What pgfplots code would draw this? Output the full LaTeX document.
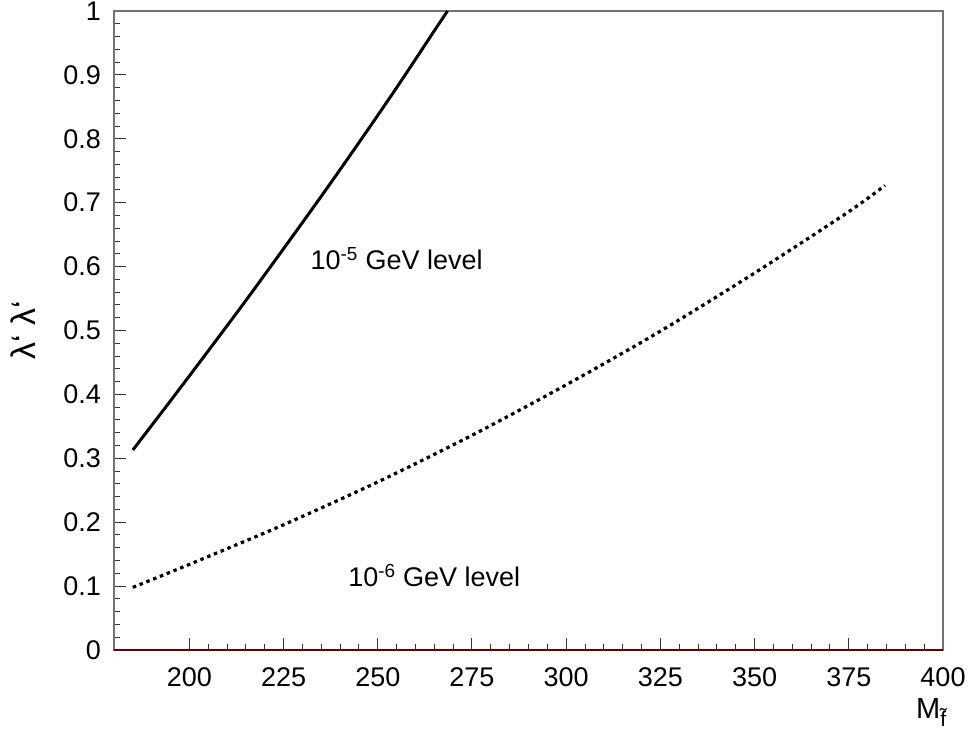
\documentclass[border=0pt]{standalone}
\usepackage{fontspec}
\setmainfont{Liberation Sans}
\usepackage{pgfplots}
\pgfplotsset{compat=1.18}

\begin{document}
\begin{tikzpicture}
    \begin{axis}[
        scale only axis,
        width=829pt,
        height=639pt,
        xmin=180, xmax=400,
        ymin=0, ymax=1,
        xtick={200,225,...,400},
        ytick={0,0.1,...,1},
        minor x tick num=4,
        minor y tick num=4,
        tick align=inside,
        xtick pos=bottom,
        ytick pos=left,
        major tick length=12pt,
        minor tick length=6pt,
        every tick/.style={black!80, line width=1pt},
        axis line style={draw=black!55, line width=1.2pt},
        /pgf/number format/assume math mode=true,
        /pgf/number format/fixed,
        tick label style={font=\fontsize{27}{32}\selectfont, inner sep=0pt},
        xticklabel style={yshift=-17pt},
        yticklabel style={xshift=-13pt},
        label style={inner sep=0pt},
        xlabel={\fontsize{29}{32}\selectfont M\raisebox{-0.28em}{\fontsize{21}{21}\selectfont\~{f}}},
        xlabel style={at={(axis description cs:1.004,-0.076)}, anchor=north east},
        ylabel={\fontsize{34}{36}\selectfont λ‘ λ‘},
        ylabel style={at={(axis description cs:-0.1098,0.5)}, anchor=center},
    ]
        % 10^-5 GeV level
        \addplot[black, line width=3pt, smooth] coordinates {
            (185,0.313) (195,0.390) (205,0.468) (215,0.547) (225,0.628)
            (235,0.710) (245,0.794) (255,0.880) (265,0.969) (268.5,1.0)
        };
        % 10^-6 GeV level
        \addplot[black, line width=3.2pt, smooth, dash pattern=on 3.5pt off 3.8pt] coordinates {
            (185,0.098) (200,0.134) (225,0.196) (250,0.263) (275,0.336)
            (300,0.415) (325,0.499) (350,0.590) (375,0.686) (384.6,0.727)
        };
        \draw[color=black!40!red!60!black, line width=1.2pt] (axis cs:180,0) -- (axis cs:400,0);
        \node[font=\fontsize{27}{32}\selectfont] at (axis cs:255,0.613) {10\textsuperscript{-5} GeV level};
        \node[font=\fontsize{27}{32}\selectfont] at (axis cs:265,0.117) {10\textsuperscript{-6} GeV level};
    \end{axis}
    \pgfresetboundingbox
    \path ([xshift=-114pt,yshift=-86pt]current axis.south west) rectangle ([xshift=25pt,yshift=11pt]current axis.north east);
\end{tikzpicture}
\end{document}
